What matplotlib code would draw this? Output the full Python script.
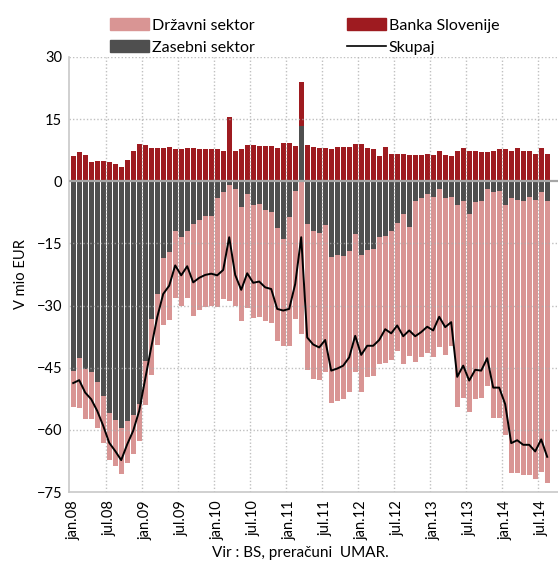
import numpy as np
import matplotlib
matplotlib.use("Agg")
import matplotlib.pyplot as plt
from matplotlib.patches import Patch
from matplotlib.lines import Line2D

# ── data (mio EUR, monthly jan.08 .. aug.14) ─────────────────────
tick_labels = ['jan.08', 'jul.08', 'jan.09', 'jul.09', 'jan.10', 'jul.10', 'jan.11',
               'jul.11', 'jan.12', 'jul.12', 'jan.13', 'jul.13', 'jan.14', 'jul.14']

drzavni = [-8.7, -12.1, -12.1, -11.3, -11.2, -11.2, -11.3, -11.1, -11.2, -10.1,
           -9.5, -9.0, -10.7, -13.6, -12.2, -16.3, -16.4, -16.3, -16.5, -16.3,
           -22.0, -21.6, -22.1, -21.7, -26.4, -25.8, -28.0, -28.1, -27.6, -27.5,
           -27.3, -27.3, -26.9, -26.9, -27.3, -25.9, -31.2, -30.9, -36.9, -35.2,
           -35.6, -35.5, -35.4, -35.3, -35.3, -34.5, -33.9, -33.2, -33.1, -30.6,
           -30.6, -30.5, -30.8, -31.2, -31.0, -36.0, -31.1, -38.7, -38.5, -38.4,
           -38.7, -38.2, -37.9, -35.9, -48.6, -47.4, -47.9, -47.5, -47.4, -47.6,
           -54.5, -54.8, -55.4, -66.4, -66.1, -66.1, -67.1, -67.5, -67.4, -68.1]

zasebni = [-45.7, -42.7, -45.2, -46.0, -48.4, -51.9, -56.0, -57.6, -59.5, -57.8,
           -56.4, -53.8, -43.3, -33.2, -27.2, -18.5, -17.1, -11.9, -13.5, -11.9,
           -10.4, -9.4, -8.3, -8.3, -4.0, -2.7, -1.0, -1.9, -6.2, -3.1,
           -5.8, -5.5, -6.9, -7.3, -11.3, -13.9, -8.6, -2.3, 13.3, -10.4,
           -12.1, -12.5, -10.6, -18.3, -17.7, -18.1, -16.9, -12.8, -17.7, -16.7,
           -16.3, -13.5, -13.1, -11.9, -10.0, -8.0, -11.0, -4.8, -4.0, -3.1,
           -3.8, -1.9, -4.0, -3.8, -5.8, -4.8, -7.9, -5.1, -4.8, -1.9,
           -2.7, -2.4, -5.8, -4.1, -4.4, -4.8, -3.8, -4.4, -2.7, -4.8]

banka = [6.0, 7.0, 6.3, 4.6, 4.9, 4.9, 4.6, 4.2, 3.5, 5.2,
         7.3, 9.1, 8.7, 8.0, 8.0, 8.0, 8.3, 7.7, 7.7, 8.0,
         8.1, 7.7, 7.7, 7.7, 7.7, 7.4, 15.4, 7.4, 7.7, 8.8,
         8.8, 8.5, 8.5, 8.4, 8.1, 9.2, 9.2, 8.5, 10.6, 8.7,
         8.3, 8.1, 8.0, 7.7, 8.3, 8.3, 8.3, 9.1, 9.1, 8.0,
         7.7, 6.2, 8.3, 6.7, 6.7, 6.7, 6.3, 6.3, 6.3, 6.7,
         6.3, 7.3, 6.3, 6.0, 7.3, 8.1, 7.3, 7.3, 7.0, 7.0,
         7.3, 7.7, 7.7, 7.3, 8.1, 7.3, 7.3, 6.7, 8.1, 6.7]

skupaj = [-48.7, -48.0, -51.0, -52.6, -55.4, -59.0, -63.1, -65.1, -67.3, -63.5,
          -60.2, -55.4, -47.7, -40.1, -32.8, -27.2, -25.2, -20.3, -22.7, -20.5,
          -24.4, -23.3, -22.6, -22.3, -22.7, -21.4, -13.5, -22.6, -26.2, -22.2,
          -24.5, -24.2, -25.6, -26.0, -30.8, -31.2, -30.8, -24.8, -13.5, -37.7,
          -39.4, -40.1, -38.3, -45.7, -45.2, -44.5, -42.5, -37.3, -41.9, -39.7,
          -39.7, -38.3, -35.7, -36.7, -34.8, -37.4, -36.0, -37.4, -36.4, -35.1,
          -36.0, -32.7, -35.2, -34.0, -47.2, -44.5, -48.1, -45.5, -45.7, -42.7,
          -49.8, -49.8, -53.8, -63.2, -62.5, -63.6, -63.6, -65.2, -62.3, -66.5]

# ── barve ───────────────────────────────────────────────
c_drz, c_zas, c_bs = '#D99594', '#4F4F4F', '#9E1B20'

plt.rcParams['font.family'] = ['Lato', 'DejaVu Sans']
plt.rcParams['font.size'] = 10

drz = np.array(drzavni); zas = np.array(zasebni); bs = np.array(banka)
x = np.arange(len(drz))
zas_pos = np.clip(zas, 0, None)
zas_neg = np.clip(zas, None, 0)

fig = plt.figure(figsize=(5.58, 5.66), dpi=100)
ax = fig.add_axes([0.1242, 0.1307, 0.8758, 0.7686])

w = 0.82
ax.bar(x, zas, width=w, color=c_zas, zorder=2)
ax.bar(x, drz, width=w, bottom=zas_neg, color=c_drz, zorder=2)
ax.bar(x, bs, width=w, bottom=zas_pos, color=c_bs, zorder=2)
ax.axhline(0, color='#A6A6A6', lw=1.6, zorder=3)
ax.plot(x, skupaj, color='black', lw=1.4, zorder=4)

# osi
ax.set_ylim(-75, 30)
ax.set_yticks(np.arange(-75, 31, 15))
ax.set_xlim(-0.65, 80.8)
ax.set_xticks(np.arange(0, len(x), 6))
ax.set_xticklabels(tick_labels, rotation=90)
ax.tick_params(axis='both', which='both', length=0, labelsize=10.5)
ax.tick_params(axis='x', pad=6)
ax.tick_params(axis='y', pad=5)

# mreža
for yv in [30, 15, -15, -30, -45, -60]:
    ax.axhline(yv, color='#ABABAB', lw=1.0, ls=(0, (1, 1.5)), alpha=0.75, zorder=2.5)
for xv in np.arange(5.5, len(x), 6):
    ax.axvline(xv, color='#ABABAB', lw=1.0, ls=(0, (1, 1.5)), alpha=0.75, zorder=2.5)

for s in ['top', 'right']:
    ax.spines[s].set_visible(False)
ax.spines['left'].set_color('#C8C8C8')
ax.spines['bottom'].set_color('#C8C8C8')
ax.spines['left'].set_linewidth(1.2)
ax.spines['bottom'].set_linewidth(1.2)

ax.set_ylabel('V mio EUR', fontsize=10.5, labelpad=6)

handles = [Patch(color=c_drz), Patch(color=c_zas), Patch(color=c_bs),
           Line2D([], [], color='black', lw=1.2)]
labels = ['Državni sektor', 'Zasebni sektor', 'Banka Slovenije', 'Skupaj']
fig.legend(handles, labels, ncol=2, loc='upper left', bbox_to_anchor=(0.183, 0.982),
           frameon=False, fontsize=11.5, handlelength=2.45, handleheight=0.8,
           handletextpad=0.15, columnspacing=5.8, labelspacing=0.45, borderpad=0)

fig.text(0.538, 0.023, 'Vir : BS, preračuni  UMAR.', ha='center', va='center', fontsize=11)

fig.savefig('out.png', dpi=100)
